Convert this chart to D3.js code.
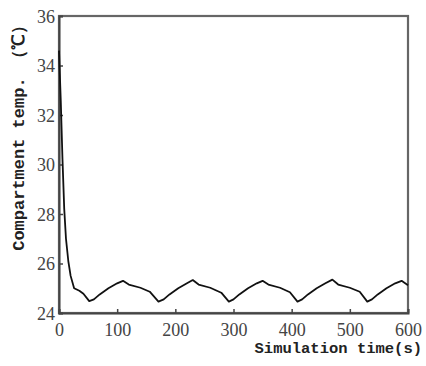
<!DOCTYPE html>
<html>
<head>
<meta charset="utf-8">
<script src="https://cdn.jsdelivr.net/npm/d3@7"></script>
<style>
  body { margin: 0; background: #fff; }
  svg { display: block; }
  .tick text { font-family: "Liberation Serif", "DejaVu Serif", serif; font-size: 18px; }
</style>
</head>
<body>
<svg id="chart" width="426" height="366"></svg>
<script>
// Simulation time (s)
const timeValues = [0, 3, 6, 9, 12, 16, 20, 26, 35, 42, 52,
  60, 70, 85, 100, 110, 120, 140, 156, 171,
  180, 190, 205, 220, 230, 240, 260, 279, 292,
  300, 310, 325, 340, 350, 360, 380, 397, 410,
  418, 428, 443, 458, 470, 480, 500, 517, 530,
  538, 548, 563, 578, 589, 600];
// Compartment temperature (°C)
const tempValues = [34.6, 32.6, 30.2, 28.2, 27.0, 26.1, 25.5, 25.0, 24.9, 24.78, 24.48,
  24.55, 24.75, 25.0, 25.2, 25.3, 25.15, 25.02, 24.86, 24.46,
  24.55, 24.75, 25.0, 25.2, 25.33, 25.15, 25.02, 24.82, 24.46,
  24.55, 24.75, 25.0, 25.2, 25.3, 25.15, 25.02, 24.84, 24.46,
  24.55, 24.75, 25.0, 25.2, 25.35, 25.15, 25.02, 24.86, 24.46,
  24.55, 24.75, 25.0, 25.2, 25.3, 25.12];
const xTicks = [0, 100, 200, 300, 400, 500, 600];
const yTicks = [24, 26, 28, 30, 32, 34, 36];

const margin = { top: 16, right: 18, bottom: 53, left: 59 };
const width = 426, height = 366;

const $svg = d3.select("#chart");

const x = d3.scaleLinear()
    .domain([0, 600])
    .range([margin.left, width - margin.right]);
const y = d3.scaleLinear()
    .domain([24, 36])
    .range([height - margin.bottom, margin.top]);

// Frame
$svg.append("rect")
    .attr("x", x(0))
    .attr("y", y(36))
    .attr("width", x(600) - x(0))
    .attr("height", y(24) - y(36))
    .attr("fill", "none")
    .attr("stroke", "#666")
    .attr("stroke-width", 2.2);

// Axes with inward ticks
const xAxis = d3.axisBottom(x).tickValues(xTicks).tickSize(-4).tickPadding(10);
const yAxis = d3.axisLeft(y).tickValues(yTicks).tickSize(-4).tickPadding(4);

const $x = $svg.append("g")
    .attr("transform", `translate(0,${y(24)})`)
    .call(xAxis);
const $y = $svg.append("g")
    .attr("transform", `translate(${x(0)},0)`)
    .call(yAxis);

[$x, $y].forEach(g => {
  g.attr("font-family", "Liberation Serif").attr("font-size", 18);
  g.select(".domain").attr("stroke", "#444").attr("stroke-width", 2);
  g.selectAll(".tick line").attr("stroke", "#444").attr("stroke-width", 1.5);
  g.selectAll(".tick text").attr("fill", "#444");
});
$y.selectAll(".tick text").attr("dy", "0.34em");

// Temperature curve
const points = timeValues.map((t, i) => [t, tempValues[i]]);
const line = d3.line()
    .x(d => x(d[0]))
    .y(d => y(d[1]));

$svg.append("path")
    .datum(points)
    .attr("d", line)
    .attr("fill", "none")
    .attr("stroke", "#111")
    .attr("stroke-width", 1.8)
    .attr("stroke-linejoin", "round");

// Axis titles
$svg.append("text")
    .attr("x", 422)
    .attr("y", 353)
    .attr("text-anchor", "end")
    .attr("fill", "#222")
    .style("font-family", "'Liberation Mono', 'DejaVu Sans Mono', monospace")
    .style("font-size", "15.5px")
    .style("font-weight", "bold")
    .text("Simulation time(s)");

$svg.append("text")
    .attr("transform", "translate(24,134) rotate(-90)")
    .attr("text-anchor", "middle")
    .attr("fill", "#222")
    .style("font-family", "'Liberation Mono', 'DejaVu Sans Mono', monospace")
    .style("font-size", "17px")
    .style("font-weight", "bold")
    .text("Compartment temp. （℃）");
</script>
</body>
</html>
